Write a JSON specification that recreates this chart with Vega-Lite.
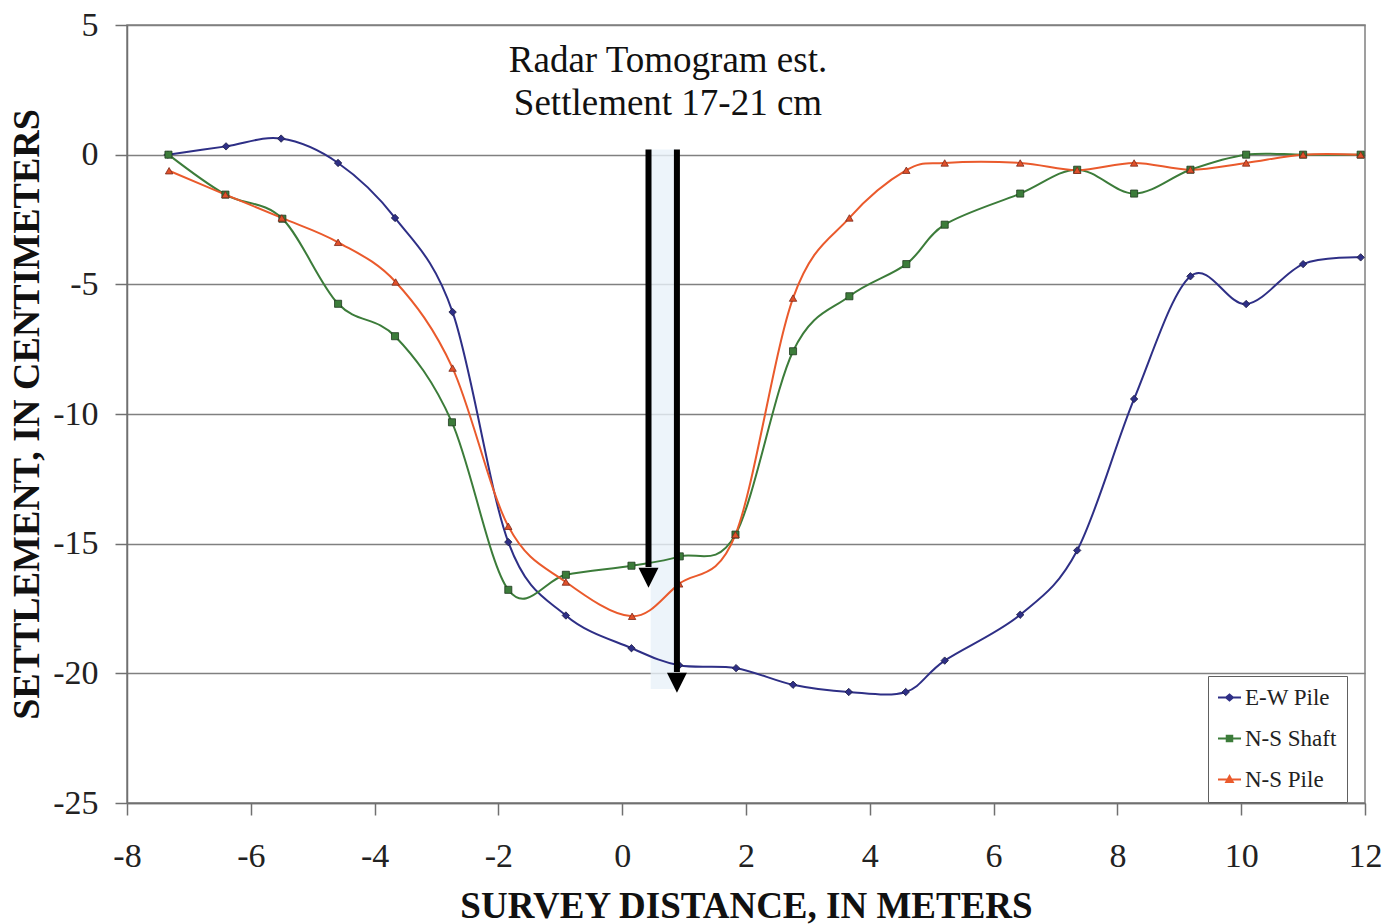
{
  "$schema": "https://vega.github.io/schema/vega-lite/v6.json",
  "width": 1238,
  "height": 778,
  "autosize": {"type": "none"},
  "padding": {"left": 127, "top": 25, "right": 35, "bottom": 121},
  "background": "white",
  "config": {
    "view": {"stroke": "#808080", "strokeWidth": 1.5},
    "font": "Liberation Serif"
  },
  "datasets": {
    "survey": [
      {"series": "E-W Pile", "x": -7.34, "y": 0},
      {"series": "E-W Pile", "x": -6.40, "y": 0.32},
      {"series": "E-W Pile", "x": -5.51, "y": 0.62},
      {"series": "E-W Pile", "x": -4.59, "y": -0.32},
      {"series": "E-W Pile", "x": -3.67, "y": -2.44},
      {"series": "E-W Pile", "x": -2.74, "y": -6.07},
      {"series": "E-W Pile", "x": -1.84, "y": -14.94},
      {"series": "E-W Pile", "x": -0.91, "y": -17.77},
      {"series": "E-W Pile", "x": 0.15, "y": -19.03},
      {"series": "E-W Pile", "x": 0.92, "y": -19.69},
      {"series": "E-W Pile", "x": 1.84, "y": -19.8},
      {"series": "E-W Pile", "x": 2.76, "y": -20.44},
      {"series": "E-W Pile", "x": 3.66, "y": -20.72},
      {"series": "E-W Pile", "x": 4.58, "y": -20.72},
      {"series": "E-W Pile", "x": 5.21, "y": -19.51},
      {"series": "E-W Pile", "x": 6.43, "y": -17.74},
      {"series": "E-W Pile", "x": 7.35, "y": -15.26},
      {"series": "E-W Pile", "x": 8.27, "y": -9.42},
      {"series": "E-W Pile", "x": 9.18, "y": -4.69},
      {"series": "E-W Pile", "x": 10.08, "y": -5.76},
      {"series": "E-W Pile", "x": 11.0, "y": -4.22},
      {"series": "E-W Pile", "x": 11.93, "y": -3.96},
      {"series": "N-S Shaft", "x": -7.33, "y": 0},
      {"series": "N-S Shaft", "x": -6.41, "y": -1.54},
      {"series": "N-S Shaft", "x": -5.49, "y": -2.47},
      {"series": "N-S Shaft", "x": -4.59, "y": -5.75},
      {"series": "N-S Shaft", "x": -3.67, "y": -7.0},
      {"series": "N-S Shaft", "x": -2.75, "y": -10.32},
      {"series": "N-S Shaft", "x": -1.84, "y": -16.78},
      {"series": "N-S Shaft", "x": -0.91, "y": -16.2},
      {"series": "N-S Shaft", "x": 0.15, "y": -15.85},
      {"series": "N-S Shaft", "x": 0.93, "y": -15.49},
      {"series": "N-S Shaft", "x": 1.83, "y": -14.65},
      {"series": "N-S Shaft", "x": 2.76, "y": -7.58},
      {"series": "N-S Shaft", "x": 3.67, "y": -5.46},
      {"series": "N-S Shaft", "x": 4.59, "y": -4.22},
      {"series": "N-S Shaft", "x": 5.21, "y": -2.7},
      {"series": "N-S Shaft", "x": 6.43, "y": -1.5},
      {"series": "N-S Shaft", "x": 7.35, "y": -0.58},
      {"series": "N-S Shaft", "x": 8.27, "y": -1.5},
      {"series": "N-S Shaft", "x": 9.18, "y": -0.58},
      {"series": "N-S Shaft", "x": 10.08, "y": 0},
      {"series": "N-S Shaft", "x": 11.0, "y": 0},
      {"series": "N-S Shaft", "x": 11.93, "y": 0},
      {"series": "N-S Pile", "x": -7.32, "y": -0.62},
      {"series": "N-S Pile", "x": -6.41, "y": -1.54},
      {"series": "N-S Pile", "x": -5.5, "y": -2.44},
      {"series": "N-S Pile", "x": -4.59, "y": -3.38},
      {"series": "N-S Pile", "x": -3.66, "y": -4.91},
      {"series": "N-S Pile", "x": -2.74, "y": -8.23},
      {"series": "N-S Pile", "x": -1.84, "y": -14.33},
      {"series": "N-S Pile", "x": -0.91, "y": -16.48},
      {"series": "N-S Pile", "x": 0.16, "y": -17.8},
      {"series": "N-S Pile", "x": 0.92, "y": -16.55},
      {"series": "N-S Pile", "x": 1.83, "y": -14.65},
      {"series": "N-S Pile", "x": 2.76, "y": -5.53},
      {"series": "N-S Pile", "x": 3.67, "y": -2.44},
      {"series": "N-S Pile", "x": 4.59, "y": -0.6},
      {"series": "N-S Pile", "x": 5.21, "y": -0.32},
      {"series": "N-S Pile", "x": 6.43, "y": -0.32},
      {"series": "N-S Pile", "x": 7.35, "y": -0.6},
      {"series": "N-S Pile", "x": 8.27, "y": -0.32},
      {"series": "N-S Pile", "x": 9.18, "y": -0.58},
      {"series": "N-S Pile", "x": 10.08, "y": -0.32},
      {"series": "N-S Pile", "x": 11.0, "y": 0},
      {"series": "N-S Pile", "x": 11.93, "y": 0}
    ],
    "arrows": [
      {"x": 0.425, "top": 0.2, "base": -15.9, "tip": -16.7},
      {"x": 0.884, "top": 0.2, "base": -19.95, "tip": -20.75}
    ],
    "band": [{"x1": 0.46, "x2": 0.86, "y1": 0.2, "y2": -20.6}],
    "notes": [
      {"x": 0.74, "y": 3.6, "label": "Radar Tomogram est."},
      {"x": 0.74, "y": 1.95, "label": "Settlement 17-21 cm"}
    ]
  },
  "layer": [
    {
      "data": {"name": "band"},
      "mark": {"type": "rect", "fill": "#e8f1f9", "opacity": 0.8},
      "encoding": {
        "x": {"field": "x1", "type": "quantitative", "scale": {"domain": [-8, 12], "nice": false, "zero": false},
          "axis": {
            "values": [-8, -6, -4, -2, 0, 2, 4, 6, 8, 10, 12],
            "labelExpr": "datum.value + ''",
            "grid": false,
            "title": "SURVEY DISTANCE, IN METERS",
            "titleFont": "Liberation Serif", "titleFontSize": 37, "titleFontWeight": "bold", "titleColor": "#111",
            "titleBaseline": "alphabetic", "titleY": 114,
            "labelFont": "Liberation Serif", "labelFontSize": 34, "labelColor": "#222",
            "labelPadding": 24, "labelFlush": false, "labelOverlap": false,
            "domainColor": "#707070", "domainWidth": 1.5,
            "tickColor": "#707070", "tickWidth": 1.5, "tickSize": 12
          }},
        "x2": {"field": "x2"},
        "y": {"field": "y1", "type": "quantitative", "scale": {"domain": [-25, 5], "nice": false, "zero": false},
          "axis": {
            "values": [-25, -20, -15, -10, -5, 0, 5],
            "labelExpr": "datum.value + ''",
            "grid": true, "gridColor": "#808080", "gridWidth": 1.5,
            "title": "SETTLEMENT, IN CENTIMETERS",
            "titleFont": "Liberation Serif", "titleFontSize": 38, "titleFontWeight": "bold", "titleColor": "#111",
            "titleBaseline": "alphabetic", "titleX": -89, "titleAngle": -90,
            "labelFont": "Liberation Serif", "labelFontSize": 34, "labelColor": "#222",
            "labelPadding": 17, "labelFlush": false, "labelOverlap": false, "labelBaseline": "middle",
            "domainColor": "#707070", "domainWidth": 1.5,
            "tickColor": "#707070", "tickWidth": 1.5, "tickSize": 12
          }},
        "y2": {"field": "y2"}
      }
    },
    {
      "data": {"name": "survey"},
      "mark": {"type": "line", "interpolate": "cardinal", "strokeWidth": 2},
      "encoding": {
        "x": {"field": "x", "type": "quantitative"},
        "y": {"field": "y", "type": "quantitative"},
        "color": {
          "field": "series", "type": "nominal",
          "scale": {"domain": ["E-W Pile", "N-S Shaft", "N-S Pile"], "range": ["#2e2f86", "#3c7c3a", "#ea5a2c"]},
          "legend": {
            "title": null,
            "orient": "none", "legendX": 1081, "legendY": 651,
            "direction": "vertical",
            "fillColor": "white", "strokeColor": "#606060",
            "padding": 10, "rowPadding": 17,
            "labelFont": "Liberation Serif", "labelFontSize": 23, "labelColor": "#222",
            "labelOffset": 4, "symbolSize": 100, "symbolStrokeWidth": 2,
            "encode": {
              "symbols": {
                "update": {
                  "shape": {"signal": "datum.value === 'E-W Pile' ? 'M-2.3,0L2.3,0M-0.7,0L0,-0.6L0.7,0L0,0.6Z' : datum.value === 'N-S Shaft' ? 'M-2.3,0L2.3,0M-0.55,-0.55L0.55,-0.55L0.55,0.55L-0.55,0.55Z' : 'M-2.3,0L2.3,0M-0.65,0.5L0.65,0.5L0,-0.7Z'"},
                  "fill": {"signal": "scale('color', datum.value)"},
                  "stroke": {"signal": "scale('color', datum.value)"},
                  "strokeWidth": {"value": 2},
                  "opacity": {"value": 1}
                }
              }
            }
          }
        }
      }
    },
    {
      "data": {"name": "survey"},
      "transform": [{"filter": "datum.series === 'E-W Pile'"}],
      "mark": {"type": "point", "shape": "diamond", "filled": true, "color": "#2e2f86", "opacity": 1, "stroke": "#1a1a40", "strokeWidth": 0.8, "size": 55},
      "encoding": {
        "x": {"field": "x", "type": "quantitative"},
        "y": {"field": "y", "type": "quantitative"}
      }
    },
    {
      "data": {"name": "survey"},
      "transform": [{"filter": "datum.series === 'N-S Shaft'"}],
      "mark": {"type": "point", "shape": "square", "filled": true, "color": "#3c7c3a", "opacity": 1, "stroke": "#1f3a1f", "strokeWidth": 0.8, "size": 50},
      "encoding": {
        "x": {"field": "x", "type": "quantitative"},
        "y": {"field": "y", "type": "quantitative"}
      }
    },
    {
      "data": {"name": "survey"},
      "transform": [{"filter": "datum.series === 'N-S Pile'"}],
      "mark": {"type": "point", "shape": "triangle-up", "filled": true, "color": "#e0502a", "opacity": 1, "stroke": "#7a2a1a", "strokeWidth": 0.8, "size": 55},
      "encoding": {
        "x": {"field": "x", "type": "quantitative"},
        "y": {"field": "y", "type": "quantitative"}
      }
    },
    {
      "data": {"name": "arrows"},
      "mark": {"type": "rule", "color": "black", "strokeWidth": 6},
      "encoding": {
        "x": {"field": "x", "type": "quantitative"},
        "y": {"field": "top", "type": "quantitative"},
        "y2": {"field": "base"}
      }
    },
    {
      "data": {"name": "arrows"},
      "mark": {"type": "point", "shape": "M-1,-2L1,-2L0,0Z", "filled": true, "color": "black", "opacity": 1, "size": 400},
      "encoding": {
        "x": {"field": "x", "type": "quantitative"},
        "y": {"field": "tip", "type": "quantitative"}
      }
    },
    {
      "data": {"name": "notes"},
      "mark": {"type": "text", "font": "Liberation Serif", "fontSize": 37, "color": "#111", "baseline": "middle", "align": "center"},
      "encoding": {
        "x": {"field": "x", "type": "quantitative"},
        "y": {"field": "y", "type": "quantitative"},
        "text": {"field": "label"}
      }
    }
  ]
}
